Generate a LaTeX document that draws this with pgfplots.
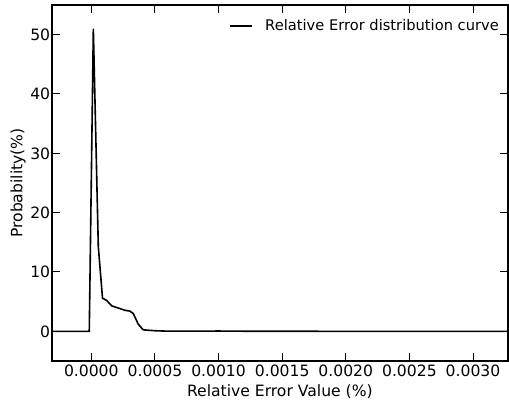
\documentclass[border=0pt]{standalone}
\usepackage{fontspec}
\setmainfont{DejaVu Sans}
\usepackage{pgfplots}
\pgfplotsset{compat=1.18}

\pgfplotstableread{
x y
-0.00031 0
-0.000016 0
0.000016 51.0
0.000055 14.3
0.000088 5.6
0.000121 5.2
0.000160 4.3
0.000265 3.55
0.000304 3.4
0.000330 3.0
0.000369 1.2
0.000408 0.25
0.00050 0.10
0.00060 0.03
0.00080 0.03
0.00100 0.05
0.00120 0.02
0.00160 0.01
0.00200 0
0.00327 0
}\errdata

\begin{document}
\begin{tikzpicture}
\begin{axis}[
    scale only axis,
    width=342.2pt,
    height=267pt,
    xmin=-0.000311, xmax=0.003275,
    ymin=-5, ymax=55,
    xtick={0,0.0005,0.001,0.0015,0.002,0.0025,0.003},
    ytick={0,10,20,30,40,50},
    scaled x ticks=false,
    xticklabel style={inner sep=2.5pt, /pgf/number format/.cd, fixed, fixed zerofill, precision=4},
    /pgf/number format/assume math mode=true,
    tick label style={font=\fontsize{11.7}{14}\selectfont},
    yticklabel style={inner sep=1pt},
    label style={font=\fontsize{11.7}{14}\selectfont},
    xlabel={Relative Error Value (\%)},
    ylabel={Probability(\%)},
    xlabel style={yshift=0pt},
    ylabel style={yshift=-1pt},
    tick align=inside,
    major tick length=6pt,
    every tick/.append style={line width=0.75pt, black},
    axis line style={line width=1.5pt},
    legend style={draw=none, fill=none, at={(0.995,0.975)}, anchor=north east,
        font=\fontsize{11}{13}\selectfont,
        /tikz/every odd column/.append style={column sep=7pt}},
    legend cell align=left,
]
\addplot[black, line width=1.2pt, no markers] table[x=x, y=y] {\errdata};
\legend{Relative Error distribution curve}
\end{axis}
\pgfresetboundingbox
\path ([xshift=-38.8pt, yshift=-30.75pt]current axis.south west)
  rectangle ([xshift=0.75pt, yshift=3.75pt]current axis.north east);
\end{tikzpicture}
\end{document}
